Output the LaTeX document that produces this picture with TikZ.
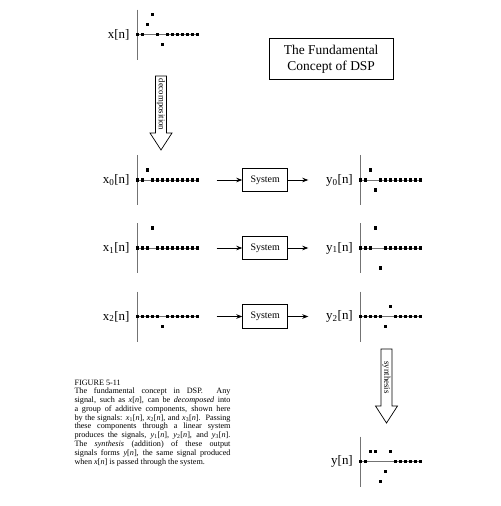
\documentclass[tikz,border=0pt]{standalone}
\usepackage{fontspec}
\setmainfont{Liberation Serif}
\usetikzlibrary{arrows.meta}
\newcommand\sg[2]{\textit{#1}\textsubscript{#2}[\textit{n}]}
\newcommand\sgn[1]{\textit{#1}[\textit{n}]}
\newcommand\capline[1]{\makebox[156bp][s]{#1}}
\newcommand\plotsig[3]{%
  \draw[axisline] (#1,#2-25) -- (#1,#2+25);
  \draw[axisline] (#1,#2) -- (#1+60,#2);
  \foreach \v [count=\i from 0] in {#3} {
    \fill (#1+5*\i-1.7,#2-10*\v-1.7) rectangle ++(3.4,3.4);
  }%
}
\begin{document}
\begin{tikzpicture}[x=1bp,y=-1bp,
  axisline/.style={draw=black!55,line width=0.7bp},
  siglabel/.style={anchor=east,inner sep=0pt,font=\fontsize{13}{15}\selectfont},
  sysbox/.style={draw,line width=0.8bp,minimum width=45bp,minimum height=23.4bp,inner sep=0pt,font=\fontsize{10}{12}\selectfont},
  conn/.style={line width=0.8bp,-{Stealth[length=6bp,width=4.5bp]}},
  blockarrow/.style={draw,line width=0.7bp,fill=white},
  arrowtext/.style={rotate=-90,inner sep=0pt,font=\fontsize{8.8}{10}\selectfont}]
\useasboundingbox (0,0) rectangle (501,506);

% title
\node[draw,line width=0.8bp,minimum width=124.3bp,minimum height=41bp,align=center,
  font=\fontsize{13.5}{16}\selectfont] (title) at (331.2,58.8) {The Fundamental\\Concept of DSP};

% input signal
\plotsig{137.7}{34.7}{0,0,1,2,0,-1,0,0,0,0,0,0,0}
\node[siglabel] (lx) at (129.7,34.7) {x[n]};

% decomposition arrow
\draw[blockarrow] (155.5,76) -- (166.5,76) -- (166.5,133) -- (172,133) -- (161,150)
  -- (150,133) -- (155.5,133) -- cycle;
\node[arrowtext] (dec) at (161,104.5) {decomposition};

% components
\plotsig{137.7}{180}{0,0,1,0,0,0,0,0,0,0,0,0,0}
\node[siglabel] (lx0) at (129.7,180) {x\textsubscript{0}[n]};
\plotsig{137.7}{248}{0,0,0,2,0,0,0,0,0,0,0,0,0}
\node[siglabel] (lx1) at (129.7,248) {x\textsubscript{1}[n]};
\plotsig{137.7}{316.5}{0,0,0,0,0,-1,0,0,0,0,0,0,0}
\node[siglabel] (lx2) at (129.7,316.5) {x\textsubscript{2}[n]};

% systems
\foreach \k/\yy in {0/180,1/248,2/316.5} {
  \node[sysbox] (sys\k) at (265.2,\yy) {System};
  \coordinate (in\k) at (216.7,\yy);
  \coordinate (out\k) at (308.3,\yy);
  \draw[conn] (in\k) -- (sys\k);
  \draw[conn] (sys\k) -- (out\k);
}

% outputs
\plotsig{360.7}{180}{0,0,1,-1,0,0,0,0,0,0,0,0,0}
\node[siglabel] (ly0) at (353,180) {y\textsubscript{0}[n]};
\plotsig{360.7}{248}{0,0,0,2,-2,0,0,0,0,0,0,0,0}
\node[siglabel] (ly1) at (353,248) {y\textsubscript{1}[n]};
\plotsig{360.7}{316.5}{0,0,0,0,0,-1,1,0,0,0,0,0,0}
\node[siglabel] (ly2) at (353,316.5) {y\textsubscript{2}[n]};

% synthesis arrow
\draw[blockarrow] (381,349) -- (392,349) -- (392,406) -- (397.5,406) -- (386.5,423)
  -- (375.5,406) -- (381,406) -- cycle;
\node[arrowtext] (syn) at (386.5,377.5) {synthesis};

% output signal
\plotsig{360.7}{461.7}{0,0,1,1,-2,-1,1,0,0,0,0,0,0}
\node[siglabel] (ly) at (353,461.7) {y[n]};

% caption
\node[anchor=north west,inner sep=0pt,align=left,
  font=\fontsize{8.2}{8.8}\selectfont] (caption) at (74.3,379.5) {%
FIGURE 5-11\\
\capline{The fundamental concept in DSP.\ \ Any}\\
\capline{signal, such as \sgn{x}, can be \textit{decomposed} into}\\
\capline{a group of additive components, shown here}\\
\capline{by the signals: \sg{x}{1}, \sg{x}{2}, and \sg{x}{3}.\ \ Passing}\\
\capline{these components through a linear system}\\
\capline{produces the signals, \sg{y}{1}, \sg{y}{2}, and \sg{y}{3}.}\\
\capline{The \textit{synthesis} (addition) of these output}\\
\capline{signals forms \sgn{y}, the same signal produced}\\
when \sgn{x} is passed through the system.};
\end{tikzpicture}
\end{document}
